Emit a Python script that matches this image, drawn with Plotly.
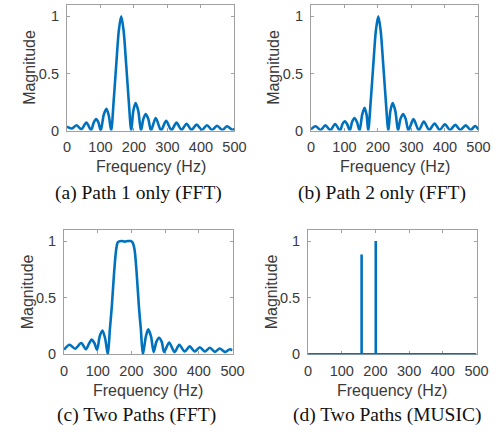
import plotly.graph_objects as go

# ---------------- data ----------------
freq_a = [0, 14, 29, 43, 58, 72, 80, 87, 94, 101, 110, 118, 125, 132, 140, 147, 155, 162,
          169, 177, 184, 192, 198, 205, 213, 221, 228, 235, 243, 251, 265, 281, 296, 312,
          327, 342, 357, 372, 387, 403, 418, 433, 448, 464, 478, 494, 500]
mag_a = [0.035, 0.018, 0.046, 0.012, 0.07, 0.003, 0.07, 0.10, 0.07, 0.0, 0.14, 0.19, 0.13,
         0.0, 0.28, 0.57, 0.88, 1.0, 0.88, 0.57, 0.28, 0.0, 0.17, 0.24, 0.17, 0.0, 0.10,
         0.145, 0.10, 0.0, 0.11, 0.0, 0.085, 0.003, 0.07, 0.005, 0.06, 0.005, 0.052, 0.005,
         0.047, 0.005, 0.042, 0.005, 0.037, 0.005, 0.015]

freq_b = [0, 14, 29, 43, 58, 72, 87, 94, 101, 108, 116, 123, 130, 137, 145, 153, 160, 166,
          171, 179, 186, 194, 201, 208, 216, 223, 231, 237, 244, 252, 260, 267, 275, 283,
          291, 306, 322, 337, 353, 369, 384, 400, 415, 431, 446, 462, 477, 490, 500]
mag_b = [0.01, 0.037, 0.005, 0.045, 0.003, 0.058, 0.0, 0.057, 0.082, 0.057, 0.0, 0.077,
         0.11, 0.077, 0.0, 0.14, 0.2, 0.14, 0.0, 0.28, 0.57, 0.88, 1.0, 0.88, 0.57, 0.28,
         0.0, 0.17, 0.24, 0.17, 0.0, 0.1, 0.145, 0.1, 0.0, 0.1, 0.003, 0.078, 0.005, 0.062,
         0.005, 0.055, 0.005, 0.05, 0.005, 0.045, 0.005, 0.04, 0.01]

freq_c = [0, 16, 33, 51, 65, 75, 82, 90, 98, 106, 114, 122, 130, 136, 142, 149, 155, 160,
          170, 180, 190, 198, 203, 209, 215, 222, 228, 234, 243, 250, 258, 266, 274, 282,
          290, 297, 312, 328, 342, 358, 373, 388, 403, 418, 433, 448, 462, 478, 492, 500]
mag_c = [0.04, 0.085, 0.05, 0.1, 0.045, 0.1, 0.13, 0.1, 0.04, 0.16, 0.21, 0.14, 0.0, 0.22,
         0.43, 0.74, 0.93, 0.99, 1.0, 0.995, 1.0, 1.0, 0.99, 0.93, 0.74, 0.43, 0.22, 0.0,
         0.16, 0.22, 0.16, 0.02, 0.11, 0.145, 0.11, 0.02, 0.105, 0.02, 0.085, 0.025, 0.07,
         0.025, 0.063, 0.025, 0.058, 0.022, 0.052, 0.02, 0.045, 0.035]

freq_d = [0, 159, 159, 159, 201, 201, 201, 500]
mag_d = [0, 0, 0.88, 0, 0, 1.0, 0, 0]

x_ticks = [0, 100, 200, 300, 400, 500]
y_ticks = [0, 0.5, 1]
y_tick_text = ["0", "0.5", "1"]
captions = ["(a) Path 1 only (FFT)", "(b) Path 2 only (FFT)",
            "(c) Two Paths (FFT)", "(d) Two Paths (MUSIC)"]
x_title = "Frequency (Hz)"
y_title = "Magnitude"

# ---------------- layout geometry ----------------
W, H = 504, 434
LINE = "#0072BD"
SANS = "Liberation Sans, Arial, sans-serif"
SERIF = "Liberation Serif, Times New Roman, serif"

# (left, right, top, bottom) in pixels
boxes = [(65, 238, 5, 133), (317, 490, 5, 133),
         (62, 236, 234, 361), (314, 488, 234, 361)]
cap_pos = [(139, 197), (390, 197), (137, 423), (396, 423)]

fig = go.Figure()
series = [(freq_a, mag_a, "spline"), (freq_b, mag_b, "spline"),
          (freq_c, mag_c, "spline"), (freq_d, mag_d, "linear")]

annotations = []
for i, ((fx, my, shape), (l, r, t, b)) in enumerate(zip(series, boxes)):
    n = "" if i == 0 else str(i + 1)
    fig.add_trace(go.Scatter(x=fx, y=my, mode="lines",
                             line=dict(color=LINE, width=2.6, shape=shape, smoothing=0.8),
                             xaxis="x" + n, yaxis="y" + n, showlegend=False,
                             hoverinfo="skip"))
    common = dict(showline=True, linecolor="#a0a0a0", linewidth=1, mirror="ticks",
                  ticks="inside", ticklen=3, tickcolor="#a0a0a0", tickwidth=1,
                  showgrid=False, zeroline=False, layer="below traces",
                  tickfont=dict(family=SANS, size=14.5, color="#3a3a3a"))
    fig.layout["xaxis" + n] = dict(domain=[l / W, r / W], anchor="y" + n, range=[0, 500],
                                   tickvals=x_ticks, ticklabelstandoff=3, **common)
    fig.layout["yaxis" + n] = dict(domain=[1 - b / H, 1 - t / H], anchor="x" + n,
                                   range=[0, 1.1], tickvals=y_ticks, ticktext=y_tick_text,
                                   ticklabelstandoff=4, **common)
    annotations.append(dict(x=(l + r) / 2 / W, y=1 - (b + 37) / H, xref="paper",
                            yref="paper", text=x_title, showarrow=False,
                            font=dict(family=SANS, size=16, color="#3a3a3a"),
                            xanchor="center", yanchor="middle"))
    annotations.append(dict(x=(l - 38) / W, y=1 - (t + b) / 2 / H, xref="paper",
                            yref="paper", text=y_title, showarrow=False, textangle=-90,
                            font=dict(family=SANS, size=16, color="#3a3a3a"),
                            xanchor="center", yanchor="middle"))
    cx, cy = cap_pos[i]
    annotations.append(dict(x=cx / W, y=1 - cy / H, xref="paper", yref="paper",
                            text=captions[i], showarrow=False,
                            font=dict(family=SERIF, size=19.5, color="#111111"),
                            xanchor="center", yanchor="middle"))

fig.update_layout(width=W, height=H, margin=dict(l=0, r=0, t=0, b=0),
                  paper_bgcolor="white", plot_bgcolor="white",
                  annotations=annotations)

fig.write_html("out.html", config={"displayModeBar": False, "staticPlot": True},
               post_script="document.body.style.margin='0';document.body.style.overflow='hidden';")
